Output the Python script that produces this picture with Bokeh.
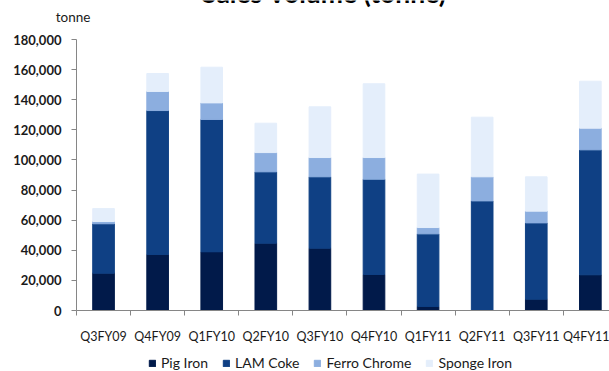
from bokeh.plotting import figure
from bokeh.models import (Range1d, FixedTicker, NumeralTickFormatter, Label,
                          Legend, LegendItem, ColumnDataSource)
from bokeh.embed import file_html
from bokeh.resources import INLINE

quarters = ["Q3FY09", "Q4FY09", "Q1FY10", "Q2FY10", "Q3FY10",
            "Q4FY10", "Q1FY11", "Q2FY11", "Q3FY11", "Q4FY11"]
pig_iron = [24800, 37200, 39000, 44700, 41400, 23900, 2700, 0, 7500, 23700]
lam_coke = [32800, 95600, 87900, 47400, 47400, 63300, 48200, 72800, 50700, 83000]
ferro_chrome = [1500, 12700, 11000, 12800, 12800, 14400, 4200, 16000, 7800, 14400]
sponge_iron = [8600, 11900, 23700, 19500, 33700, 49000, 35500, 39600, 22800, 31200]
series_names = ["Pig Iron", "LAM Coke", "Ferro Chrome", "Sponge Iron"]
y_ticks = [0, 20000, 40000, 60000, 80000, 100000, 120000, 140000, 160000, 180000]
title_text = "Sales Volume (tonne)"
unit_text = "tonne"

colors = ["#011A4A", "#0F4084", "#8CAEDF", "#E4EEFB"]
FONT = "Lato"

W, H = 609, 371
LEFT, TOP, BOTTOM = 76, 39, 310          # pixel positions of the value axis ends
CAT_W = 54.09                            # pixel width of one category slot
px_per_val = (BOTTOM - TOP) / 180000.0

xs = [i + 0.5 for i in range(len(quarters))]
source = ColumnDataSource(dict(x=xs, pig=pig_iron, lam=lam_coke,
                               ferro=ferro_chrome, sponge=sponge_iron))

p = figure(width=W, height=H, output_backend="svg", toolbar_location=None,
           x_range=Range1d(-LEFT / CAT_W, (W - LEFT) / CAT_W),
           y_range=Range1d(-(H - BOTTOM) / px_per_val, 180000 + TOP / px_per_val),
           min_border_left=0, min_border_right=0, min_border_top=0,
           min_border_bottom=0)
p.background_fill_color = "white"
p.border_fill_color = "white"
p.outline_line_color = None
p.grid.visible = False

rs = p.vbar_stack(["pig", "lam", "ferro", "sponge"], x="x", width=0.4,
                  color=colors, source=source)

axis_color = "#868686"
xa = p.xaxis[0]
xa.fixed_location = 0
xa.bounds = (0, len(quarters))
xa.ticker = FixedTicker(ticks=xs, minor_ticks=list(range(len(quarters) + 1)))
xa.major_label_overrides = {x: q for x, q in zip(xs, quarters)}
xa.axis_line_color = axis_color
xa.major_tick_out = 0
xa.major_tick_in = 0
xa.minor_tick_out = 5
xa.minor_tick_in = 0
xa.minor_tick_line_color = axis_color
xa.major_label_standoff = 13
xa.major_label_text_font = FONT
xa.major_label_text_font_size = "12.5px"
xa.major_label_text_color = "#1a1a1a"

ya = p.yaxis[0]
ya.fixed_location = 0
ya.bounds = (0, 180000)
ya.ticker = FixedTicker(ticks=y_ticks, minor_ticks=[])
ya.formatter = NumeralTickFormatter(format="0,0")
ya.axis_line_color = axis_color
ya.major_tick_line_color = axis_color
ya.major_tick_out = 5
ya.major_tick_in = 0
ya.major_label_standoff = 10
ya.major_label_text_font = FONT
ya.major_label_text_font_style = "bold"
ya.major_label_text_font_size = "13px"
ya.major_label_text_color = "#1a1a1a"

legend = Legend(items=[LegendItem(label=n, renderers=[r]) for n, r in zip(series_names, rs)],
                orientation="horizontal", location=(148, 0),
                glyph_width=8, glyph_height=8, label_height=10, label_standoff=5,
                spacing=14, padding=0, margin=0, border_line_color=None,
                background_fill_alpha=0,
                label_text_font=FONT, label_text_font_size="14px",
                label_text_color="#1a1a1a")
p.add_layout(legend)

title = Label(x=(324 - LEFT) / CAT_W, y=180000 + (TOP + 8) / px_per_val, text=title_text,
              text_align="center", text_baseline="alphabetic",
              text_font=FONT, text_font_style="bold", text_font_size="26.5px",
              text_color="#000000")
p.add_layout(title)
unit = Label(x=(72.5 - LEFT) / CAT_W, y=180000 + (TOP - 16.5) / px_per_val, text=unit_text,
             text_align="center", text_baseline="middle",
             text_font=FONT, text_font_size="13.5px", text_color="#1a1a1a")
p.add_layout(unit)

open("out.html", "w").write(file_html(p, INLINE))
